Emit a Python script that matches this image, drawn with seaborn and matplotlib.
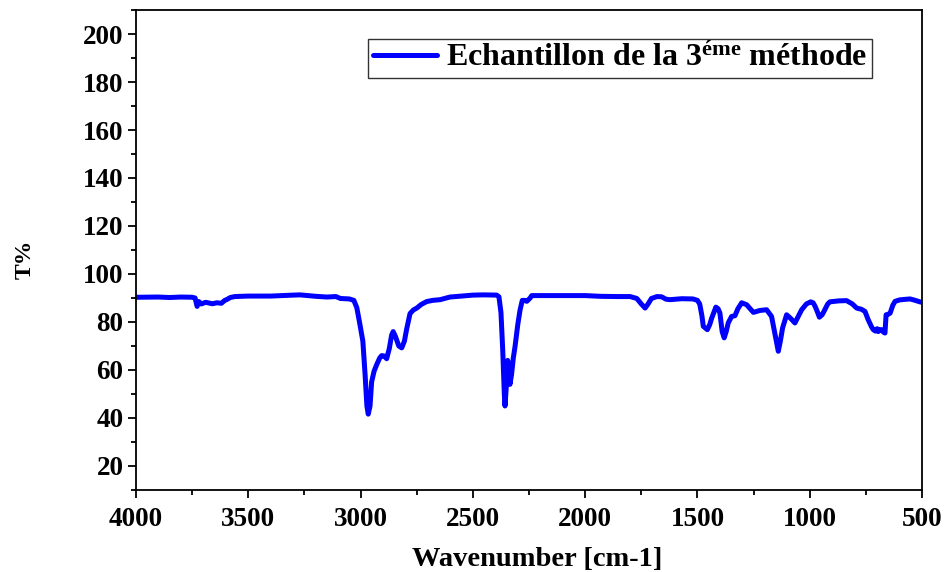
import numpy as np
import pandas as pd
import matplotlib
matplotlib.use("Agg")
import matplotlib.pyplot as plt
import seaborn as sns
from matplotlib.ticker import MultipleLocator

wavenumber = [4000, 3900, 3850, 3800, 3750, 3737, 3728, 3720, 3710, 3690, 3660, 3640, 3620,
              3605, 3595, 3580, 3560, 3500, 3400, 3300, 3270, 3200, 3150, 3110, 3090, 3050,
              3030, 3017, 3005, 2990, 2980, 2972, 2966, 2958, 2951, 2940, 2928, 2915, 2906,
              2895, 2884, 2872, 2862, 2855, 2845, 2830, 2817, 2805, 2795, 2780, 2765, 2750,
              2730, 2706, 2680, 2646, 2602, 2550, 2499, 2450, 2394, 2384, 2375, 2367, 2360,
              2357, 2352, 2345, 2340, 2335, 2328, 2320, 2312, 2300, 2290, 2280, 2270, 2260,
              2245, 2238, 2200, 2112, 2000, 1934, 1860, 1800, 1770, 1750, 1733, 1720, 1705,
              1680, 1660, 1640, 1622, 1570, 1520, 1500, 1490, 1480, 1474, 1456, 1445, 1437,
              1418, 1408, 1400, 1390, 1381, 1372, 1363, 1348, 1333, 1320, 1303, 1281, 1265,
              1251, 1222, 1192, 1170, 1155, 1140, 1130, 1121, 1103, 1085, 1066, 1050, 1036,
              1015, 996, 985, 976, 965, 957, 945, 939, 920, 910, 870, 836, 810, 791, 770, 754,
              740, 725, 717, 708, 700, 695, 688, 680, 672, 665, 662, 660, 651, 642, 630, 620,
              600, 580, 553, 530, 510, 500]
transmittance = [90.3, 90.4, 90.2, 90.4, 90.3, 90.0, 86.5, 88.5, 87.5, 88.2, 87.6, 88.0, 87.8,
                 89.0, 89.4, 90.2, 90.6, 90.8, 90.8, 91.2, 91.3, 90.7, 90.4, 90.6, 89.8, 89.6,
                 89.0, 86.0, 80.0, 72.0, 58.0, 45.0, 41.6, 45.0, 55.0, 59.5, 62.3, 65.0, 66.0,
                 65.8, 64.7, 69.0, 74.5, 76.0, 74.0, 70.0, 69.2, 72.0, 77.0, 83.5, 85.0, 85.8,
                 87.3, 88.5, 89.0, 89.3, 90.4, 90.8, 91.2, 91.3, 91.2, 90.5, 84.0, 68.0, 50.0,
                 45.0, 52.0, 64.0, 58.0, 54.0, 58.0, 65.0, 70.0, 79.0, 85.0, 89.0, 89.0, 88.6,
                 90.0, 91.0, 91.0, 91.0, 91.0, 90.7, 90.6, 90.6, 89.8, 87.5, 85.8, 87.5, 89.8,
                 90.6, 90.5, 89.5, 89.3, 89.7, 89.6, 89.0, 87.5, 82.5, 78.2, 76.8, 79.0, 81.5,
                 86.2, 85.5, 83.7, 76.0, 73.4, 76.0, 79.6, 82.3, 82.6, 85.5, 88.0, 87.2, 85.5,
                 84.0, 84.8, 85.1, 82.3, 75.0, 67.8, 72.5, 77.5, 83.0, 81.5, 79.6, 82.5, 85.1,
                 87.5, 88.4, 88.0, 86.5, 84.0, 82.0, 83.0, 84.0, 87.5, 88.4, 88.8, 88.9, 87.5,
                 85.8, 85.3, 84.4, 81.0, 78.0, 76.8, 76.2, 77.2, 76.0, 76.8, 76.8, 75.8, 75.4,
                 80.0, 83.0, 83.2, 83.7, 87.0, 88.6, 89.2, 89.4, 89.6, 89.0, 88.4, 88.2]

x_ticks = [4000, 3500, 3000, 2500, 2000, 1500, 1000, 500]
y_ticks = [20, 40, 60, 80, 100, 120, 140, 160, 180, 200]
series_label = "Echantillon de la 3$^{\\mathrm{éme}}$ méthode"

sns.set_style("ticks")
plt.rcParams["font.family"] = ["Liberation Serif", "DejaVu Serif"]
plt.rcParams["font.weight"] = "bold"
plt.rcParams["mathtext.fontset"] = "custom"
plt.rcParams["mathtext.rm"] = "Liberation Serif:bold"
plt.rcParams["mathtext.bf"] = "Liberation Serif:bold"
plt.rcParams["mathtext.it"] = "Liberation Serif:bold"
for key in ["text.color", "axes.labelcolor", "xtick.color", "ytick.color", "axes.edgecolor"]:
    plt.rcParams[key] = "black"

df = pd.DataFrame({"Wavenumber": wavenumber, "T": transmittance})

fig, ax = plt.subplots(figsize=(9.48, 5.72), dpi=100)
fig.subplots_adjust(left=0.1435, right=0.9726, top=0.9825, bottom=0.1434)

sns.lineplot(data=df, x="Wavenumber", y="T", ax=ax, color="#0000ff", linewidth=3.6,
             label=series_label)

ax.set_xlim(4000, 500)
ax.set_ylim(10, 210)
ax.set_xticks(x_ticks)
ax.set_yticks(y_ticks)
ax.xaxis.set_minor_locator(MultipleLocator(250))
ax.yaxis.set_minor_locator(MultipleLocator(10))
ax.tick_params(which="major", direction="out", length=6, width=1.3, labelsize=19.5, pad=3,
               colors="black")
ax.tick_params(axis="x", which="major", pad=6)
ax.tick_params(which="minor", direction="out", length=3.5, width=1.3, colors="black")
for lab in ax.get_xticklabels() + ax.get_yticklabels():
    lab.set_fontweight("bold")
for sp in ax.spines.values():
    sp.set_linewidth(1.3)
    sp.set_color("black")

ax.set_xlabel("Wavenumber [cm-1]", fontsize=20.5, fontweight="bold", color="black")
ax.set_ylabel("T%", fontsize=17, fontweight="bold", color="black")
ax.xaxis.set_label_coords(0.511, -0.118)
ax.yaxis.set_label_coords(-0.128, 0.48)

leg = ax.legend(loc="upper right", bbox_to_anchor=(0.9365, 0.94),
                frameon=True, fancybox=False, edgecolor="black", handlelength=2.0,
                borderpad=0.15, handletextpad=0.3, borderaxespad=0.0,
                prop={"size": 23, "weight": "bold"})
leg.get_frame().set_linewidth(1.0)
for t in leg.get_texts():
    t.set_color("black")

fig.savefig("out.png", dpi=100)
